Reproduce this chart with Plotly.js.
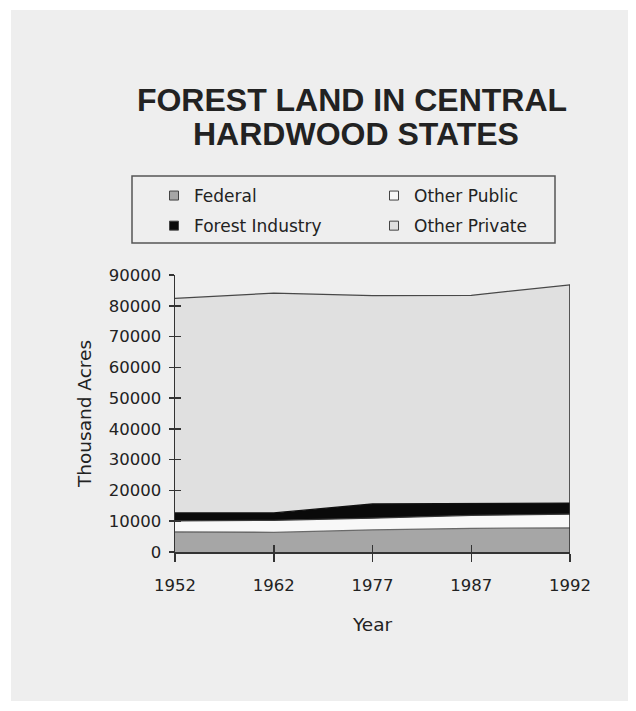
<!DOCTYPE html>
<html>
<head>
<meta charset="utf-8">
<script src="https://cdn.plot.ly/plotly-3.0.1.min.js"></script>
<style>
  html, body { margin: 0; padding: 0; background: #ffffff; }
  #chart { position: absolute; left: 11px; top: 10px; width: 617px; height: 691px; }
</style>
</head>
<body>
<div id="chart"></div>
<script>
// ---- Data (thousand acres) ----
const years = ['1952', '1962', '1977', '1987', '1992'];
const federal        = [6500, 6400, 7200, 7700, 7800];
const otherPublic    = [3600, 3900, 3800, 4200, 4500];
const forestIndustry = [2600, 2400, 4600, 3800, 3600];
const otherPrivate   = [69700, 71400, 67700, 67700, 70900];
const seriesNames = ['Federal', 'Other Public', 'Forest Industry', 'Other Private'];
const titleLine1 = 'FOREST LAND IN CENTRAL';
const titleLine2 = 'HARDWOOD STATES';
const yTitle = 'Thousand Acres';
const xTitle = 'Year';

const fills = ['#a6a6a6', '#f8f8f8', '#0a0a0a', '#e0e0e0'];
const edges = ['#6a6a6a', '#3a3a3a', '#111111', '#484848'];
const seriesVals = [federal, otherPublic, forestIndustry, otherPrivate];

const traces = [];
seriesVals.forEach((vals, i) => {
  traces.push({
    type: 'scatter', mode: 'lines', x: years, y: vals,
    stackgroup: 'one', name: seriesNames[i], showlegend: false,
    fillcolor: fills[i], line: { color: edges[i], width: 1.3 },
    hoverinfo: 'skip'
  });
});

// right edge of the stacked area
const lastIdx = years.length - 1;
const lastTotal = seriesVals.reduce((s, v) => s + v[lastIdx], 0);
traces.push({
  type: 'scatter', mode: 'lines', x: [years[lastIdx], years[lastIdx]], y: [0, lastTotal],
  line: { color: '#333333', width: 1.6 }, showlegend: false, hoverinfo: 'skip'
});

// legend entries (square swatches), split in two columns
const legendAssign = ['legend', 'legend2', 'legend', 'legend2'];
seriesNames.forEach((nm, i) => {
  traces.push({
    type: 'scatter', mode: 'markers', x: [null], y: [null], name: nm,
    legend: legendAssign[i], legendgroup: 'g' + i,
    marker: { symbol: 'square', size: 9, color: fills[i], line: { color: '#444', width: 1 } },
    hoverinfo: 'skip'
  });
});

// overlay axes for the inner half of the crossing tick marks
traces.push({ type: 'scatter', mode: 'markers', x: [], y: [], xaxis: 'x', yaxis: 'y2', showlegend: false, hoverinfo: 'skip' });
traces.push({ type: 'scatter', mode: 'markers', x: [], y: [], xaxis: 'x2', yaxis: 'y', showlegend: false, hoverinfo: 'skip' });

const txtFont = 'DejaVu Sans, Verdana, sans-serif';
const W = 617, H = 691;
const m = { l: 164, r: 58, t: 265, b: 149 };
const pw = W - m.l - m.r, ph = H - m.t - m.b;
const px = v => (v - m.l) / pw;           // div px -> paper x
const py = v => (H - m.b - v) / ph;       // div px -> paper y

const layout = {
  width: W, height: H,
  margin: m,
  paper_bgcolor: '#eeeeee',
  plot_bgcolor: '#eeeeee',
  showlegend: true,
  title: {
    text: titleLine1,
    font: { family: 'Liberation Sans, Arial, sans-serif', size: 32, weight: 'bold', color: '#222' },
    xref: 'container', yref: 'container',
    x: 341 / W, xanchor: 'center',
    y: 1 - 89.7 / H, yanchor: 'middle'
  },
  annotations: [{
    text: titleLine2, showarrow: false,
    font: { family: 'Liberation Sans, Arial, sans-serif', size: 32, weight: 'bold', color: '#222' },
    xref: 'paper', yref: 'paper', x: px(344.8), y: py(124.2),
    xanchor: 'center', yanchor: 'middle'
  }],
  shapes: [{
    type: 'rect', xref: 'paper', yref: 'paper',
    x0: px(121), x1: px(544), y0: py(233), y1: py(166),
    line: { color: '#555', width: 1.5 }, fillcolor: 'rgba(0,0,0,0)'
  }],
  legend: {
    x: px(143), xanchor: 'left', y: py(168), yanchor: 'top',
    bgcolor: 'rgba(0,0,0,0)', borderwidth: 0,
    font: { family: txtFont, size: 17, color: '#222' },
    traceorder: 'grouped', tracegroupgap: 5, itemwidth: 30
  },
  legend2: {
    x: px(363), xanchor: 'left', y: py(168), yanchor: 'top',
    bgcolor: 'rgba(0,0,0,0)', borderwidth: 0,
    font: { family: txtFont, size: 17, color: '#222' },
    traceorder: 'grouped', tracegroupgap: 5, itemwidth: 30
  },
  xaxis: {
    type: 'category', range: [0, 4], categoryarray: years,
    showgrid: false, zeroline: false,
    showline: true, linecolor: '#333', linewidth: 1.5,
    ticks: 'outside', ticklen: 8, tickwidth: 1.5, tickcolor: '#333',
    ticklabelstandoff: 10,
    tickfont: { family: txtFont, size: 16.5, color: '#222' },
    title: { text: xTitle, font: { family: txtFont, size: 18.5, color: '#222' }, standoff: 24 },
    fixedrange: true
  },
  xaxis2: {
    type: 'linear', overlaying: 'x', anchor: 'y', side: 'bottom', range: [0, 4], dtick: 1,
    showgrid: false, zeroline: false, showline: false, showticklabels: false,
    ticks: 'inside', ticklen: 7, tickwidth: 1.5, tickcolor: '#333', fixedrange: true
  },
  yaxis: {
    range: [0, 90000], dtick: 10000,
    showgrid: false, zeroline: false,
    showline: true, linecolor: '#333', linewidth: 1.5,
    ticks: 'outside', ticklen: 5, tickwidth: 1.5, tickcolor: '#333',
    ticklabelstandoff: 4,
    tickformat: 'd',
    tickfont: { family: txtFont, size: 16.5, color: '#222' },
    title: { text: yTitle, font: { family: txtFont, size: 18.5, color: '#222' }, standoff: 12 },
    fixedrange: true
  },
  yaxis2: {
    overlaying: 'y', anchor: 'x', side: 'left', range: [0, 90000], dtick: 10000,
    showgrid: false, zeroline: false, showline: false, showticklabels: false,
    ticks: 'inside', ticklen: 6, tickwidth: 1.5, tickcolor: '#333', fixedrange: true
  }
};

Plotly.newPlot('chart', traces, layout, { displayModeBar: false, staticPlot: true });
</script>
</body>
</html>
